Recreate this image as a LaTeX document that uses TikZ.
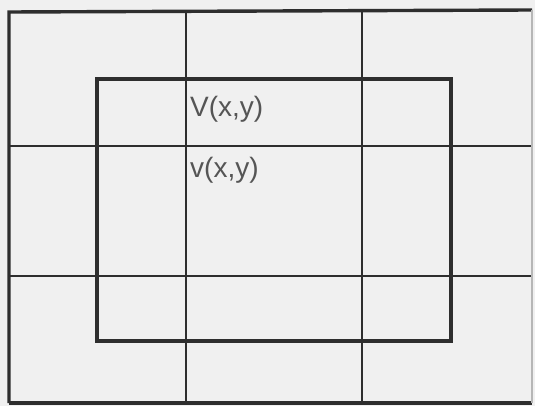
\documentclass[tikz,border=0pt]{standalone}
\usepackage{fontspec}
\setmainfont{Liberation Sans}
\definecolor{bg}{HTML}{F0F0F0}
\definecolor{ink}{HTML}{2E2E2E}
\definecolor{txt}{HTML}{555555}
\tikzset{
  gridline/.style={draw=ink, line width=2.8pt},
  outerline/.style={draw=ink, line width=3.4pt},
  innerline/.style={draw=ink, line width=4.6pt},
  label/.style={anchor=base west, inner sep=0pt, text=txt, font=\fontsize{28}{30}\selectfont}
}
\begin{document}
\begin{tikzpicture}[x=1pt,y=-1pt]
\useasboundingbox (0,0) rectangle (535,406);
\fill[bg] (0,0) rectangle (535,406);
% grid lines
\draw[gridline] (186,11) -- (186,403);
\draw[gridline] (362,11) -- (362,403);
\draw[gridline] (9,146) -- (532,146);
\draw[gridline] (9,276) -- (532,276);
% outer frame
\draw[outerline] (9,403) -- (9,12) -- (532,10);
\draw[outerline] (9,403) -- (532,403);
\draw[draw=ink!35, line width=1.5pt] (532,10) -- (532,403);
% inner rectangle
\draw[innerline] (97,79) rectangle (451,341);
% labels
\node[label] (V) at (190,117) {V(x,y)};
\node[label] (v) at (190,178) {v(x,y)};
\end{tikzpicture}
\end{document}
